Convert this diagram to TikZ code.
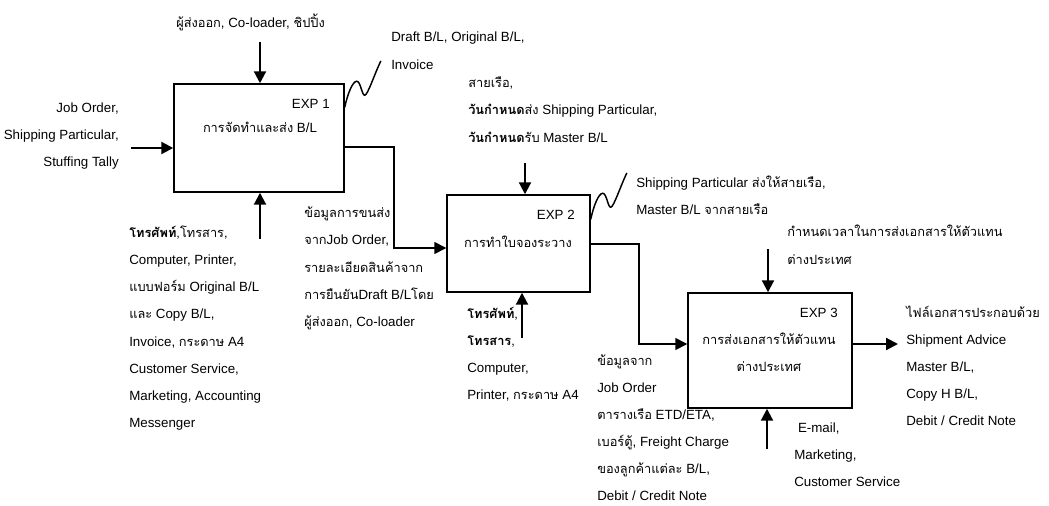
\documentclass[tikz,border=0pt]{standalone}
\usepackage{fontspec}
\setmainfont{Liberation Sans}
\newfontfamily\thaifont[Script=Thai,Scale=0.96]{Loma}
\usetikzlibrary{arrows.meta,calc}

% Thai run inside mixed Thai/Latin text
\newcommand\tx[1]{{\thaifont #1}}

\tikzset{
  lbl/.style={inner sep=0pt, font=\fontsize{10}{12}\selectfont},
  proc/.style={draw, line width=1.1pt, inner sep=0pt},
  arr/.style={line width=1.6pt, -{Triangle[length=9pt,width=9pt]}},
  flow/.style={line width=1.2pt, -{Triangle[length=9pt,width=9pt]}},
  squig/.style={line width=1.1pt, line cap=round}
}

% one label per line, first line centred on #4, lines #5 apart
\newcommand\stackat[6]{%
  \foreach \ln [count=\k from 0] in {#6}{%
    \node[lbl, anchor=#2] (#1-\k) at (#3, {#4+4.5+#5*\k}) {\ln};}}

% output squiggle leaving a box edge
\newcommand\wavefrom[1]{%
  \draw[squig] (#1) .. controls +(3,-14) and +(-4,0) .. ++(12,-26)
    .. controls +(4,0) and +(-3,0) .. ++(8,14)
    .. controls +(3,0) and +(-6,12) .. ++(16,-34);}

\begin{document}
\begin{tikzpicture}[x=0.75pt, y=-0.75pt]
\useasboundingbox (0,0) rectangle (1049,506);

% process boxes
\node[proc, minimum width=127.5pt, minimum height=81pt]    (b1) at (259,138) {};
\node[proc, minimum width=107.25pt, minimum height=72.75pt] (b2) at (518.5,243.5) {};
\node[proc, minimum width=123pt, minimum height=86.25pt]   (b3) at (770,350.5) {};

% box captions
\node[lbl, anchor=base east] (id1) at (330,108.5) {EXP 1};
\node[lbl, anchor=base] (ti1) at (260,132.5) {\tx{การจัดทำและส่ง} B/L};
\node[lbl, anchor=base east] (id2) at (575,219.5) {EXP 2};
\node[lbl, anchor=base] (ti2) at (518,247.5) {\tx{การทำใบจองระวาง}};
\node[lbl, anchor=base east] (id3) at (838,317.5) {EXP 3};
\node[lbl, anchor=base] (ti3a) at (769,344.5) {\tx{การส่งเอกสารให้ตัวแทน}};
\node[lbl, anchor=base] (ti3b) at (769,371.5) {\tx{ต่างประเทศ}};

% EXP 1 labels
\node[lbl, anchor=base west] (c1) at (176,27.5) {\tx{ผู้ส่งออก}, Co-loader, \tx{ชิปปิ้ง}};
\stackat{in1}{base east}{119}{108}{27}{{Job Order,},{Shipping Particular,},{Stuffing Tally}}
\stackat{out1}{base west}{391}{37}{28}{{Draft B/L, Original B/L,},{Invoice}}
\stackat{m1}{base west}{129}{233}{27.15}{{\tx{\textbf{โทรศัพท์},โทรสาร,}},{Computer, Printer,},{\tx{แบบฟอร์ม} Original B/L},{\tx{และ} Copy B/L,},{Invoice, \tx{กระดาษ} A4},{Customer Service,},{Marketing, Accounting},{Messenger}}
\stackat{f1}{base west}{304}{213}{27.3}{{\tx{ข้อมูลการขนส่ง}},{\tx{จาก}Job Order,},{\tx{รายละเอียดสินค้าจาก}},{\tx{การยืนยัน}Draft B/L\tx{โดย}},{\tx{ผู้ส่งออก}, Co-loader}}

% EXP 2 labels
\stackat{c2}{base west}{468}{83}{27.5}{{\tx{สายเรือ,}},{\tx{\textbf{วันกำหนด}ส่ง} Shipping Particular,},{\tx{\textbf{วันกำหนด}รับ} Master B/L}}
\stackat{out2}{base west}{636}{183}{27}{{Shipping Particular \tx{ส่งให้สายเรือ,}},{Master B/L \tx{จากสายเรือ}}}
\stackat{m2}{base west}{467}{314}{27}{{\tx{\textbf{โทรศัพท์},}},{\tx{\textbf{โทรสาร},}},{Computer,},{Printer, \tx{กระดาษ} A4}}
\stackat{f2}{base west}{597}{361}{27}{{\tx{ข้อมูลจาก}},{Job Order},{\tx{ตารางเรือ} ETD/ETA,},{\tx{เบอร์ตู้}, Freight Charge},{\tx{ของลูกค้าแต่ละ} B/L,},{Debit / Credit Note}}

% EXP 3 labels
\stackat{c3}{base west}{787}{232}{28}{{\tx{กำหนดเวลาในการส่งเอกสารให้ตัวแทน}},{\tx{ต่างประเทศ}}}
\stackat{out3}{base west}{906}{313}{27}{{\tx{ไฟล์เอกสารประกอบด้วย}},{Shipment Advice},{Master B/L,},{Copy H B/L,},{Debit / Credit Note}}
\stackat{m3}{base west}{794}{428}{27}{{\hspace{0.28em}E-mail,},{Marketing,},{Customer Service}}

% free ends of the arrows
\coordinate (t1) at (260,42);
\coordinate (u1) at (260,239);
\coordinate (l1) at (131,148);
\coordinate (t2) at (525,163);
\coordinate (u2) at (522,338);
\coordinate (t3) at (768,249);
\coordinate (u3) at (767,449);
\coordinate (o3) at (898,344);
% bends of the flow lines
\coordinate (k1) at (394,147);
\coordinate (k1b) at (394,248);
\coordinate (k2) at (639,244);
\coordinate (k2b) at (639,344);

% controls, inputs and mechanisms
\draw[arr] (t1) -- (t1 |- b1.north);
\draw[arr] (u1) -- (u1 |- b1.south);
\draw[arr] (l1) -- (l1 -| b1.west);
\draw[arr] (t2) -- (t2 |- b2.north);
\draw[arr] (u2) -- (u2 |- b2.south);
\draw[arr] (t3) -- (t3 |- b3.north);
\draw[arr] (u3) -- (u3 |- b3.south);
\draw[arr] (o3 -| b3.east) -- (o3);

% flow between the processes
\draw[flow] (k1 -| b1.east) -- (k1) -- (k1b) -- (k1b -| b2.west);
\draw[flow] (k2 -| b2.east) -- (k2) -- (k2b) -- (k2b -| b3.west);

% document outputs
\wavefrom{[yshift=-18pt]b1.north east}
\wavefrom{[yshift=-18.75pt]b2.north east}
\end{tikzpicture}
\end{document}
